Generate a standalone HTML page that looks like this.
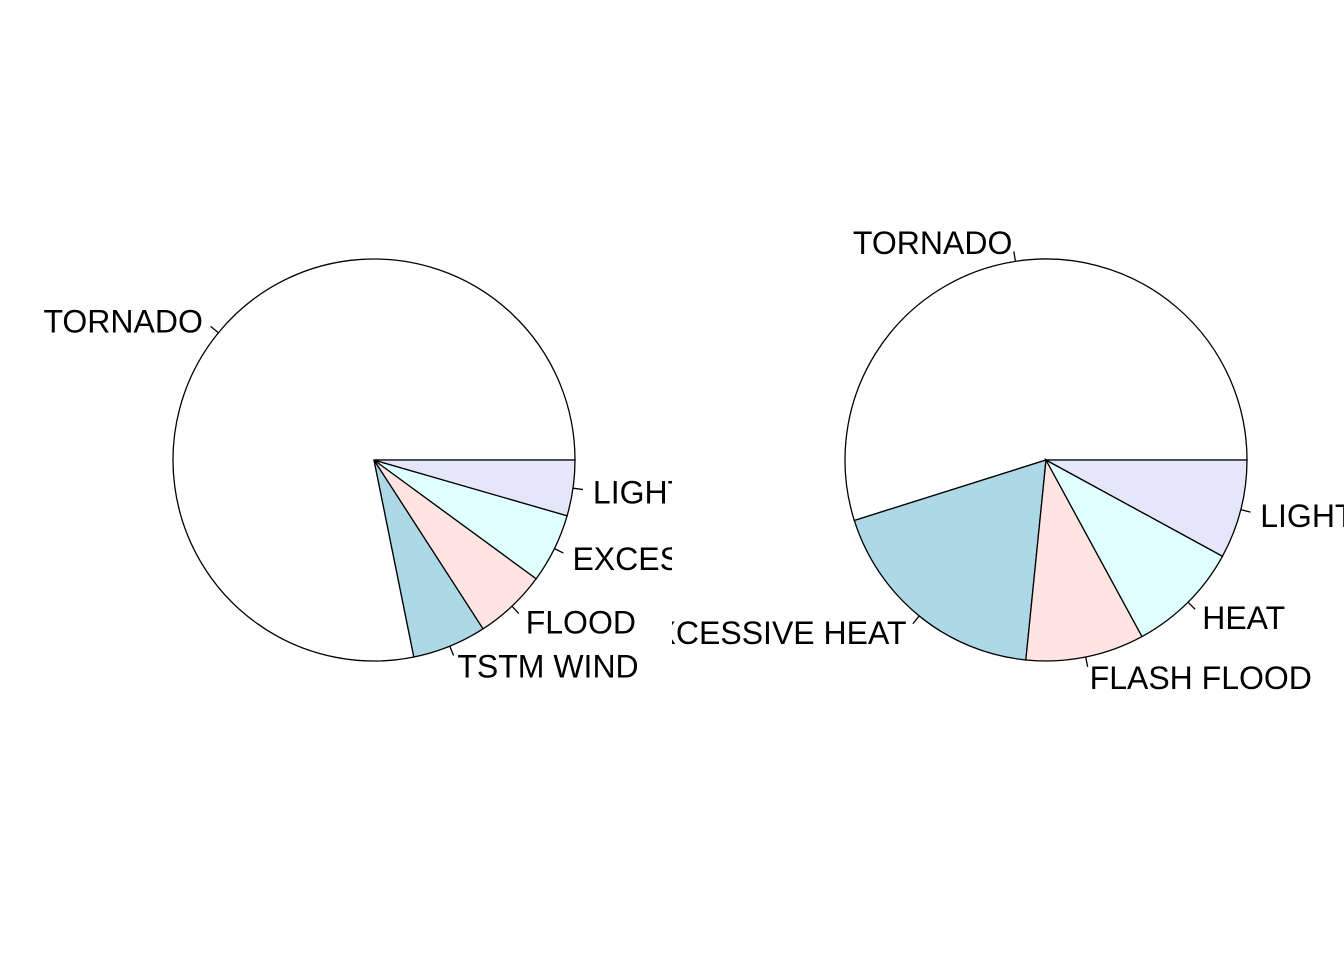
<!DOCTYPE html>
<html><head><meta charset="utf-8"><style>
html,body{margin:0;padding:0;background:#fff;width:1344px;height:960px;overflow:hidden}
svg text{font-family:"Liberation Sans",Arial,sans-serif;font-size:32px;fill:#000}
</style></head><body>
<svg id="chart" width="1344" height="960" xmlns="http://www.w3.org/2000/svg">
<defs>
<clipPath id="clipL"><rect x="0" y="0" width="672" height="960"/></clipPath>
<clipPath id="clipR"><rect x="672" y="0" width="672" height="960"/></clipPath>
</defs>
</svg>
<script>
const leftCategories = ["TORNADO","TSTM WIND","FLOOD","EXCESSIVE HEAT","LIGHTNING"];
const leftValues = [91346, 6957, 6789, 6525, 5230];
const rightCategories = ["TORNADO","EXCESSIVE HEAT","FLASH FLOOD","HEAT","LIGHTNING"];
const rightValues = [5633, 1903, 978, 937, 816];
const sliceColors = ["#FFFFFF","#ADD8E6","#FFE4E1","#E0FFFF","#E6E6FA"];

const NS = "http://www.w3.org/2000/svg";
const svg = document.getElementById('chart');
function drawPie(cats, vals, cx, cy, r, clipId, name){
  const g = document.createElementNS(NS,'g');
  g.setAttribute('clip-path','url(#'+clipId+')');
  
  
  svg.appendChild(g);
  const total = vals.reduce((a,b)=>a+b,0);
  let acc = 0;
  const pt = (a, rr) => [cx + rr*Math.cos(a), cy - rr*Math.sin(a)];
  vals.forEach((v,i)=>{
    const a0 = acc/total*2*Math.PI; acc += v;
    const a1 = acc/total*2*Math.PI;
    const p0 = pt(a0,r), p1 = pt(a1,r);
    const large = (a1-a0) > Math.PI ? 1 : 0;
    const path = document.createElementNS(NS,'path');
    path.setAttribute('d', `M${cx},${cy} L${p0[0]},${p0[1]} A${r},${r} 0 ${large} 0 ${p1[0]},${p1[1]} Z`);
    path.setAttribute('fill', sliceColors[i % sliceColors.length]);
    path.setAttribute('stroke', '#000');
    path.setAttribute('stroke-width', '1.3');
    
    
    g.appendChild(path);
    const am = (a0+a1)/2;
    const t0 = pt(am, r), t1 = pt(am, r*1.05), lp = pt(am, r*1.1);
    const tick = document.createElementNS(NS,'line');
    tick.setAttribute('x1',t0[0]); tick.setAttribute('y1',t0[1]);
    tick.setAttribute('x2',t1[0]); tick.setAttribute('y2',t1[1]);
    tick.setAttribute('stroke','#000'); tick.setAttribute('stroke-width','1.3');
    
    
    g.appendChild(tick);
    const t = document.createElementNS(NS,'text');
    t.setAttribute('x', lp[0]); t.setAttribute('y', lp[1] + 12.5);
    t.setAttribute('text-anchor', Math.cos(am) >= 0 ? 'start' : 'end');
    t.textContent = cats[i];
    
    
    g.appendChild(t);
  });
}
drawPie(leftCategories, leftValues, 374, 460, 201, 'clipL', 'injuries-pie');
drawPie(rightCategories, rightValues, 1046, 460, 201, 'clipR', 'fatalities-pie');
</script>
</body></html>
